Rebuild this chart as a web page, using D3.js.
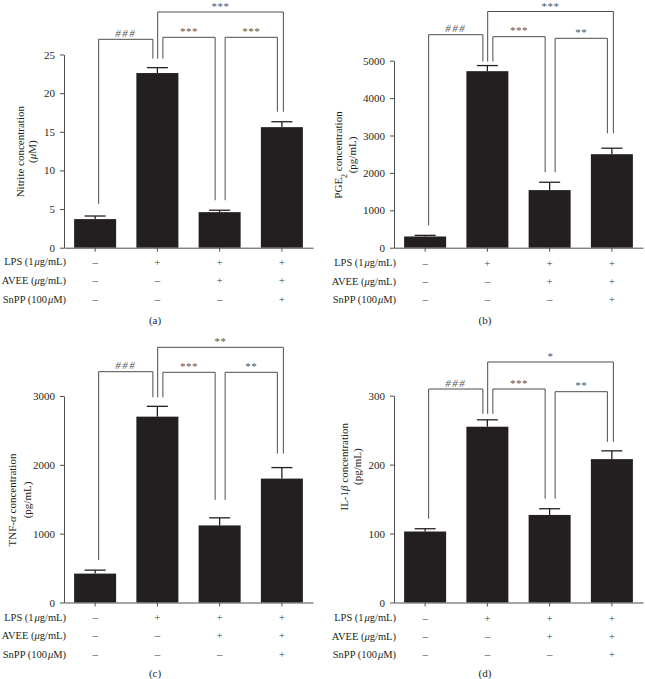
<!DOCTYPE html>
<html><head><meta charset="utf-8">
<script src="https://cdn.jsdelivr.net/npm/d3@7"></script>
<style>
html,body{margin:0;padding:0;background:#fff;}
svg{display:block;font-family:"Liberation Serif","Times New Roman",serif;}
</style></head><body>
<svg id="chart" width="645" height="679"></svg>
<script>
// ---------- data ----------
const groups = ["Control", "LPS", "LPS+AVEE", "LPS+AVEE+SnPP"];
const lpsSigns = ["–", "+", "+", "+"];
const aveeSigns = ["–", "–", "+", "+"];
const snppSigns = ["–", "–", "–", "+"];

const nitriteMean = [3.7, 22.6, 4.6, 15.6];
const nitriteErr = [0.4, 0.7, 0.25, 0.7];
const nitriteTicks = [0, 5, 10, 15, 20, 25];

const pgeMean = [300, 4720, 1540, 2500];
const pgeErr = [30, 150, 210, 160];
const pgeTicks = [0, 1000, 2000, 3000, 4000, 5000];

const tnfMean = [420, 2700, 1120, 1800];
const tnfErr = [50, 150, 110, 160];
const tnfTicks = [0, 1000, 2000, 3000];

const il1Mean = [103, 255, 127, 208];
const il1Err = [4, 10, 9, 12];
const il1Ticks = [0, 100, 200, 300];

const sigPairs = [[0, 1], [1, 2], [2, 3], [1, 3]];
const nitriteSig = ["###", "***", "***", "***"];
const pgeSig = ["###", "***", "**", "***"];
const tnfSig = ["###", "***", "**", "**"];
const il1Sig = ["###", "***", "**", "*"];

const panelLetters = ["(a)", "(b)", "(c)", "(d)"];

// text pieces (i = italic, sub = subscript)
const rowLabels = [
  [{t: "LPS (1\u200A"}, {t: "μ", i: 1}, {t: "g/mL)"}],
  [{t: "AVEE ("}, {t: "μ", i: 1}, {t: "g/mL)"}],
  [{t: "SnPP (100\u200A"}, {t: "μ", i: 1}, {t: "M)"}]
];
const yTitles = [
  [[{t: "Nitrite concentration"}], [{t: "("}, {t: "μ", i: 1}, {t: "M)"}]],
  [[{t: "PGE"}, {t: "2", sub: 1}, {t: " concentration"}], [{t: "(pg/mL)"}]],
  [[{t: "TNF-"}, {t: "α", i: 1}, {t: " concentration"}], [{t: "(pg/mL)"}]],
  [[{t: "IL-1"}, {t: "β", i: 1}, {t: " concentration"}], [{t: "(pg/mL)"}]]
];

const panels = [
  {mean: nitriteMean, err: nitriteErr, ticks: nitriteTicks, sig: nitriteSig},
  {mean: pgeMean, err: pgeErr, ticks: pgeTicks, sig: pgeSig},
  {mean: tnfMean, err: tnfErr, ticks: tnfTicks, sig: tnfSig},
  {mean: il1Mean, err: il1Err, ticks: il1Ticks, sig: il1Sig}
];

// ---------- layout ----------
const layouts = [
  {x0: 64, x1: 313, yBase: 247.7, yTop: 54.5, bracketY: [39.3, 37.3, 37.3, 12], legGap: [12, 9, 10, 10],
   titleX: [20, 32.5], titleY: 151.7, rowY: [261.7, 280, 299], letterX: 155, letterY: 320},
  {x0: 394, x1: 643, yBase: 247.7, yTop: 60.7, bracketY: [34.7, 36.7, 38.3, 11.5], legGap: [10, 4, 10, 15],
   titleX: [338, 352], titleY: 155, rowY: [262.7, 281, 299.3], letterX: 485, letterY: 320},
  {x0: 64, x1: 313, yBase: 602.5, yTop: 396, bracketY: [371.7, 372.3, 372.3, 347.3], legGap: [10, 9, 18, 14],
   titleX: [12, 27.5], titleY: 500, rowY: [617.3, 635.3, 654], letterX: 155, letterY: 673},
  {x0: 394, x1: 643, yBase: 602.5, yTop: 395.7, bracketY: [389, 389, 391.7, 362], legGap: [10, 6, 10, 9],
   titleX: [344, 357], titleY: 466.7, rowY: [617.7, 636, 654.3], letterX: 485, letterY: 673}
];

const INK = "#231f20";
const LINE = "#4d4d4d";
const FS = 11;

const svg = d3.select("#chart");

function addPieces(textSel, pieces) {
  pieces.forEach(p => {
    const ts = textSel.append("tspan").text(p.t);
    if (p.i) ts.attr("font-style", "italic");
    if (p.sub) ts.attr("baseline-shift", "sub").attr("font-size", FS * 0.72);
  });
}

panels.forEach((P, k) => {
  const L = layouts[k];
  const g = svg.append("g");
  const x = d3.scaleBand().domain(groups).range([L.x0, L.x1]).paddingInner(0.325).paddingOuter(0.1625);
  const y = d3.scaleLinear().domain([0, d3.max(P.ticks)]).range([L.yBase, L.yTop]);
  const cx = i => x(groups[i]) + x.bandwidth() / 2;

  // bars
  g.selectAll("rect.bar").data(P.mean).join("rect")
    .attr("class", "bar")
    .attr("x", (d, i) => x(groups[i]))
    .attr("width", x.bandwidth())
    .attr("y", d => y(d))
    .attr("height", d => L.yBase - y(d))
    .attr("fill", INK);

  // error bars
  P.mean.forEach((m, i) => {
    const top = y(m + P.err[i]);
    g.append("line").attr("x1", cx(i)).attr("x2", cx(i)).attr("y1", y(m)).attr("y2", top)
      .attr("stroke", INK).attr("stroke-width", 1.3);
    g.append("line").attr("x1", cx(i) - 10.5).attr("x2", cx(i) + 10.5).attr("y1", top).attr("y2", top)
      .attr("stroke", INK).attr("stroke-width", 1.3);
  });

  // axes
  const ya = g.append("g").attr("transform", `translate(${L.x0},0)`)
    .call(d3.axisLeft(y).tickValues(P.ticks).tickSize(4).tickSizeOuter(0).tickPadding(5).tickFormat(d3.format("d")));
  const xa = g.append("g").attr("transform", `translate(0,${L.yBase})`)
    .call(d3.axisBottom(x).tickSize(4).tickSizeOuter(0).tickFormat(""));
  [ya, xa].forEach(a => {
    a.select(".domain").attr("stroke", LINE).attr("stroke-width", 1);
    a.selectAll(".tick line").attr("stroke", LINE).attr("stroke-width", 1);
    a.selectAll(".tick text").attr("font-family", "Liberation Serif, serif").attr("font-size", FS).attr("fill", INK);
  });

  // y title
  yTitles[k].forEach((line, li) => {
    const t = g.append("text")
      .attr("transform", `translate(${L.titleX[li]},${L.titleY}) rotate(-90)`)
      .attr("text-anchor", "middle").attr("dy", "0.35em")
      .attr("font-size", FS).attr("fill", INK);
    addPieces(t, line);
  });

  // treatment rows
  const signRows = [lpsSigns, aveeSigns, snppSigns];
  signRows.forEach((signs, r) => {
    const t = g.append("text").attr("x", L.x0 + 2).attr("y", L.rowY[r]).attr("dy", "0.35em")
      .attr("text-anchor", "end").attr("font-size", 10.5).attr("fill", INK);
    addPieces(t, rowLabels[r]);
    g.selectAll(null).data(signs).join("text")
      .attr("x", (d, i) => cx(i)).attr("y", L.rowY[r]).attr("dy", "0.35em")
      .attr("text-anchor", "middle").attr("font-size", FS).attr("fill", "#444")
      .text(d => d);
  });

  // panel letter
  g.append("text").attr("x", L.letterX).attr("y", L.letterY).attr("dy", "0.35em")
    .attr("text-anchor", "middle").attr("font-size", FS).attr("fill", INK).text(panelLetters[k]);

  // significance brackets
  const legBottom = i => y(P.mean[i] + P.err[i]) - L.legGap[i];
  sigPairs.forEach(([a, b], s) => {
    const long = (b - a) > 1;
    const xa_ = long ? cx(a) + 0.3 : cx(a) + (a === 0 ? 3.5 : 5.5);
    const xb_ = long ? cx(b) + 1.5 : cx(b) - 4.5;
    const by = L.bracketY[s];
    g.append("path")
      .attr("d", `M${xa_},${legBottom(a)}V${by}H${xb_}V${legBottom(b)}`)
      .attr("fill", "none").attr("stroke", LINE).attr("stroke-width", 1);
    g.append("text").attr("x", (xa_ + xb_) / 2).attr("y", Math.max(by - 2.5, 10))
      .attr("text-anchor", "middle").attr("font-size", FS).attr("fill", "#555")
      .attr("letter-spacing", P.sig[s] === "###" ? "1.5px" : "0.5px")
      .attr("font-style", P.sig[s] === "###" ? "italic" : "normal")
      .text(P.sig[s]);
  });
});
</script>
</body></html>
